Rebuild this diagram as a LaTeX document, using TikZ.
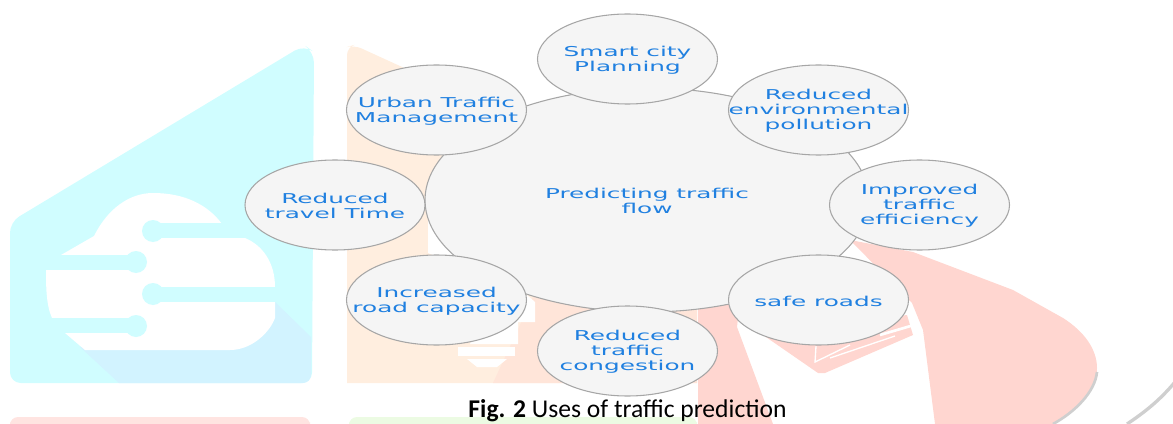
\documentclass[tikz,border=0pt]{standalone}
\usepackage{fontspec}
\usepackage{xcolor}
\usetikzlibrary{shapes.geometric}
\newfontfamily\blobfont[FakeStretch=1.82]{DejaVu Sans}
\newfontfamily\capfont{Carlito}
\definecolor{wmcyan}{HTML}{D0FDFF}
\definecolor{wmshade}{HTML}{D2F3FF}
\definecolor{wmorange}{HTML}{FFEEDF}
\definecolor{wmpeach}{HTML}{FFE5D9}
\definecolor{wmred}{HTML}{FFD6D0}
\definecolor{wmpink}{HTML}{FFE4E1}
\definecolor{wmgreen}{HTML}{ECFBE3}
\definecolor{wmgrey}{HTML}{CFCFCF}
\definecolor{blobtext}{HTML}{2080E0}
\tikzset{
  blob/.style={ellipse,draw=black!35,fill=black!4,line width=0.8pt,inner sep=0pt},
  sat/.style={blob,minimum width=135pt,minimum height=67.5pt},
  txt/.style={font=\blobfont\fontsize{10.2}{11.25}\selectfont,text=blobtext,align=center,inner sep=0pt,yshift=-0.8pt},
}

\begin{document}
\begin{tikzpicture}[x=0.75pt,y=-0.75pt]
    \useasboundingbox (0,0) rectangle (1173,424);
    \clip (0,0) rectangle (1173,424);

    \fill[wmcyan,rounded corners=8pt] (10,383) -- (10,222) -- (304,45) -- (314,52) -- (312,383) -- cycle;
    \fill[wmshade] (80,347) -- (230,350) -- (275,302) -- (311,337) -- (311,375)
    [rounded corners=6pt] -- (311,383) [sharp corners] -- (119,383) -- cycle;
    \fill[white] (61,255) -- (94,236) .. controls (108,208) and (130,193) .. (153,193)
    .. controls (185,193) and (208,205) .. (222,224) -- (222,238) -- (245,238)
    .. controls (262,245) and (275,262) .. (275,287) -- (275,318)
    .. controls (270,332) and (252,350) .. (230,350) -- (85,350) -- (65,333) -- (52,318)
    .. controls (46,305) and (46,285) .. (46,270) -- (50,255) -- cycle;
    \fill[wmcyan] (153,223) rectangle (312,238);
    \fill[wmcyan] (153,231) circle (11);
    \fill[wmcyan] (30,255) rectangle (136,270);
    \fill[wmcyan] (136,262) circle (11);
    \fill[wmcyan] (153,287) rectangle (312,302);
    \fill[wmcyan] (153,294) circle (11);
    \fill[wmcyan] (30,318) rectangle (136,333);
    \fill[wmcyan] (136,326) circle (11);

    \fill[wmorange,rounded corners=6pt] (347,383) -- (347,47) -- (354,45) [sharp corners] -- (540,130) -- (697,300) -- (697,383) -- cycle;
    \fill[wmpeach] (533,297) -- (697,300) -- (697,383) -- (493,383) -- cycle;
    \fill[white] (428,220) -- (445,220) -- (470,270) -- (428,253) -- cycle;
    \fill[white] (527,295) -- (535,302) -- (535,322) -- (518,322) -- (518,344) -- (470,344) -- (480,320) -- cycle;
    \fill[white] (458,347) rectangle (515,356);
    \fill[white] (467,359) -- (507,359) -- (497,367) -- (477,367) -- cycle;

    \fill[wmred] (698,300) -- (740,300) -- (737,327) -- (773,424) -- (698,424) -- cycle;
    \fill[wmred] (850,240) -- (913,252) -- (1013,290) -- (1063,318)
    .. controls (1085,332) and (1097,350) .. (1097,368)
    .. controls (1097,390) and (1075,412) .. (1053,424) -- (935,424) -- (923,330) -- (912,303) -- cycle;
    \fill[wmred] (763,335) -- (818,373) -- (825,373) -- (913,335) -- (907,315) -- cycle;
    \draw[white,line width=1pt] (816,346) -- (815,362) -- (850,345) (830,358) -- (895,336);
    \draw[white,line width=2pt] (880,335) -- (914,325);
    \draw[wmgrey,line width=2pt] (1097,372) .. controls (1095,392) and (1075,412) .. (1053,424);
    \draw[wmgrey,line width=2.5pt] (1175,382) .. controls (1160,400) and (1145,412) .. (1127,424);

    \fill[wmpink,rounded corners=6pt] (10,430) -- (10,417) -- (310,417) -- (310,430) -- cycle;
    \fill[wmgreen,rounded corners=6pt] (349,430) -- (349,417) -- (697,417) -- (697,430) -- cycle;

    \path (647,200) node[blob,minimum width=333pt,minimum height=168pt,
      label={[txt]center:Predicting traffic\\flow}] (Pred) {};
    \path
    (627.5,59) node[sat,label={[txt]center:Smart city\\Planning}] (Smart) {}
    (818.5,110) node[sat,label={[txt]center:Reduced\\environmental\\pollution}] (Env) {}
    (919.5,205) node[sat,label={[txt]center:Improved\\traffic\\efficiency}] (Eff) {}
    (818.5,300) node[sat,label={[txt]center:safe roads}] (Safe) {}
    (627.5,351) node[sat,label={[txt]center:Reduced\\traffic\\congestion}] (Cong) {}
    (436.5,300) node[sat,label={[txt]center:Increased\\road capacity}] (Road) {}
    (335,205) node[sat,label={[txt]center:Reduced\\travel Time}] (Time) {}
    (436.5,110) node[sat,label={[txt]center:Urban Traffic\\Management}] (Urban) {}
    ;

    \node[font=\capfont\fontsize{19.2}{21}\selectfont,inner sep=0pt,anchor=base] (Cap) at (627.5,417.5) {\textbf{Fig. 2} Uses of traffic prediction};
  \end{tikzpicture}
\end{document}
